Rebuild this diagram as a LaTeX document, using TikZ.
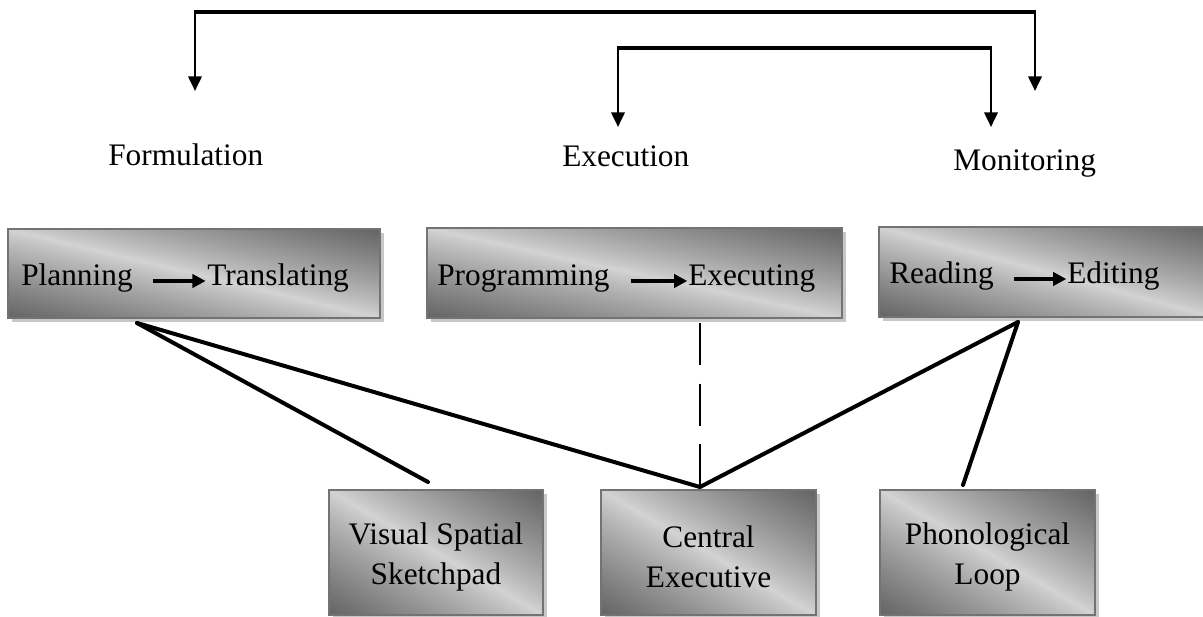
\documentclass[tikz,border=0pt]{standalone}
\usepackage{fontspec}
\setmainfont{Liberation Serif}
\usetikzlibrary{arrows.meta,shadows,fit}

% grey band along the box diagonal, dark towards two opposite corners
% (the path box covers the central 25bp..75bp part of the shading)
\pgfdeclarefunctionalshading{diagband}{\pgfpoint{0bp}{0bp}}{\pgfpoint{100bp}{100bp}}{}{
  add 100 sub abs 50 div dup 1 gt {pop 1} if 0.85 exp
  -0.44 mul 0.83 add dup dup
}

\begin{document}
\begin{tikzpicture}[x=0.75pt,y=-0.75pt,
  box/.style={draw=black!55, line width=1.1pt, inner sep=0pt,
    shade, shading=diagband,
    drop shadow={shadow xshift=3pt,shadow yshift=-3pt,fill=black!22,opacity=1}},
  txt/.style={font=\fontsize{23.5}{30}\selectfont},
  word/.style={txt, inner sep=0pt, anchor=base west},
  boxtext/.style={txt, align=center, inner sep=0pt},
  bar/.style={line width=3pt},
  down/.style={line width=2pt, -{Triangle[length=11pt,width=10pt]}},
  inarr/.style={line width=3pt, -{Triangle[length=10pt,width=10pt]}},
  link/.style={line width=3pt, line cap=round},
  dash link/.style={line width=1.1pt, dash pattern=on 31.5pt off 14pt}]

\useasboundingbox (0,0) rectangle (1203,617);
\clip (0,0) rectangle (1203,617);

% stage labels
\node[word] (form) at (108,165) {Formulation};
\node[word] (exec) at (562,166) {Execution};
\node[word] (moni) at (953,170) {Monitoring};

% feedback brackets above the stages
\coordinate (oL) at (195,12);
\coordinate (oR) at (1035,12);
\coordinate (oLt) at (195,91);
\coordinate (oRt) at (1035,91);
\coordinate (iL) at (618,48);
\coordinate (iR) at (991,48);
\coordinate (iLt) at (618,127);
\coordinate (iRt) at (991,127);
\draw[bar] ([xshift=-0.9pt]oL) -- ([xshift=0.9pt]oR);
\draw[down] (oL) -- (oLt);
\draw[down] (oR) -- (oRt);
\draw[bar] ([xshift=-0.9pt]iL) -- ([xshift=0.9pt]iR);
\draw[down] (iL) -- (iLt);
\draw[down] (iR) -- (iRt);

% process boxes
\node[box, fit={(8,229) (380,318)}] (b1) {};
\node[box, fit={(427,228) (842,318)}] (b2) {};
\node[box, fit={(879,227) (1215,317)}] (b3) {};

\node[word] (plan) at (21,285) {Planning};
\node[word] (trans) at (207,285) {Translating};
\node[word] (prog) at (437,285) {Programming};
\node[word] (execg) at (688,285) {Executing};
\node[word] (read) at (889,283) {Reading};
\node[word] (edit) at (1067,283) {Editing};

\draw[inarr] ([xshift=15pt,yshift=3pt]plan.base east) -- ([xshift=-1pt,yshift=3pt]trans.base west);
\draw[inarr] ([xshift=15.5pt,yshift=3pt]prog.base east) -- ([xshift=-0.5pt,yshift=3pt]execg.base west);
\draw[inarr] ([xshift=15pt,yshift=3pt]read.base east) -- ([xshift=-0.5pt,yshift=3pt]edit.base west);

% working memory components
\node[box, fit={(329,490) (543,615)}] (vss) {};
\node[box, fit={(601,490) (816,615)}] (ce) {};
\node[box, fit={(880,490) (1095,615)}] (pl) {};
\node[boxtext] (vssL) at ([yshift=-3pt]vss.center) {Visual Spatial\\Sketchpad};
\node[boxtext] (ceL) at ([yshift=-3pt]ce.center) {Central\\Executive};
\node[boxtext] (plL) at ([yshift=-3pt]pl.center) {Phonological\\Loop};

% links between processes and components
\coordinate (fA) at (137,323);
\coordinate (mA) at (1018,322);
\coordinate (eA) at (700,323);
\coordinate (vssT) at (428,482);
\coordinate (ceT) at (700,487);
\coordinate (plT) at (963,485);
\draw[link] (fA) -- (vssT);
\draw[link] (fA) -- (ceT);
\draw[link] (mA) -- (ceT);
\draw[link] (mA) -- (plT);
\draw[dash link] (eA) -- (ceT);

\end{tikzpicture}
\end{document}
